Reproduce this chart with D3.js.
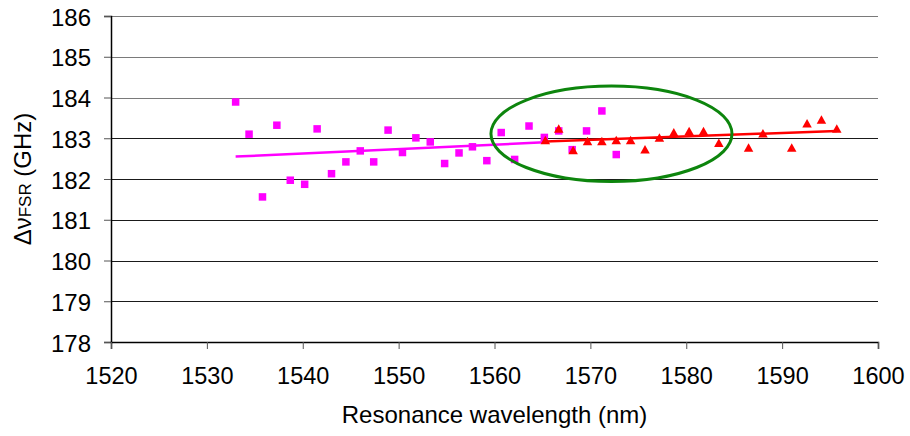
<!DOCTYPE html>
<html>
<head>
<meta charset="utf-8">
<script src="https://cdn.jsdelivr.net/npm/d3@7"></script>
<style>
  html, body { margin: 0; padding: 0; background: #fff; }
  svg { display: block; font-family: "Liberation Sans", Arial, sans-serif; }
</style>
</head>
<body>
<svg id="chart" width="910" height="436"></svg>
<script>
// ---- data ----
const xTicks = [1520, 1530, 1540, 1550, 1560, 1570, 1580, 1590, 1600];
const yTicks = [178, 179, 180, 181, 182, 183, 184, 185, 186];

const pinkX = [1533.0, 1534.4, 1535.8, 1537.3, 1538.7, 1540.2, 1541.5, 1543.0, 1544.5, 1546.0,
               1547.4, 1548.9, 1550.4, 1551.8, 1553.3, 1554.8, 1556.3, 1557.7, 1559.2, 1560.7,
               1562.1, 1563.6, 1565.2, 1566.7, 1568.1, 1569.6, 1571.2, 1572.7];
const pinkY = [183.89, 183.10, 181.56, 183.32, 181.97, 181.87, 183.23, 182.13, 182.42, 182.69,
               182.42, 183.20, 182.65, 183.01, 182.91, 182.38, 182.64, 182.79, 182.45, 183.14,
               182.48, 183.30, 183.02, 183.18, 182.72, 183.18, 183.67, 182.60];

const redX = [1565.3, 1566.7, 1568.2, 1569.7, 1571.2, 1572.7, 1574.2, 1575.7, 1577.2, 1578.7,
              1580.3, 1581.8, 1583.4, 1586.5, 1588.0, 1591.0, 1592.6, 1594.1, 1595.7];
const redY = [182.96, 183.24, 182.71, 182.93, 182.93, 182.96, 182.96, 182.73, 183.02, 183.15,
              183.18, 183.18, 182.89, 182.77, 183.12, 182.77, 183.37, 183.46, 183.24];

// linear trendlines (endpoints)
const pinkTrendX = [1533.0, 1565.2];
const pinkTrendY = [182.55, 182.90];
const redTrendX = [1565.3, 1595.7];
const redTrendY = [182.92, 183.18];

// highlight ellipse (data units): center x, center y, half-width (nm), half-height (GHz)
const ellipseCenter = [1572.2, 183.11];
const ellipseRadii = [12.57, 1.17];

// ---- layout ----
const svg = d3.select("#chart");
const W = 910, H = 436;
const margin = { left: 111, right: 32, top: 16, bottom: 94 };
const x = d3.scaleLinear().domain([1520, 1600]).range([margin.left, W - margin.right]);
const y = d3.scaleLinear().domain([178, 186]).range([H - margin.bottom, margin.top]);

svg.append("rect").attr("width", W).attr("height", H).attr("fill", "#fff");

// gridlines
svg.append("g").selectAll("line").data(yTicks.filter(d => d !== 178)).join("line")
  .attr("x1", x(1520)).attr("x2", x(1600))
  .attr("y1", d => Math.round(y(d)) + 0.5).attr("y2", d => Math.round(y(d)) + 0.5)
  .attr("stroke", d => d >= 184 ? "#7a7a7a" : "#1a1a1a").attr("stroke-width", 1);

// y axis
const yAxis = d3.axisLeft(y).tickValues(yTicks).tickSize(7).tickPadding(13).tickFormat(d3.format("d"));
const gy = svg.append("g").attr("transform", `translate(${x(1520)},0)`).call(yAxis);
gy.select(".domain").attr("stroke", "#000").attr("stroke-width", 1.5);
gy.selectAll(".tick line").attr("stroke", "#555");
gy.selectAll(".tick text").attr("font-size", 24).attr("fill", "#000")
  .attr("font-family", "Liberation Sans, Arial, sans-serif").attr("dy", "0.38em");

// x axis
const xAxis = d3.axisBottom(x).tickValues(xTicks).tickSize(7).tickPadding(18).tickFormat(d3.format("d"));
const gx = svg.append("g").attr("transform", `translate(0,${y(178)})`).call(xAxis);
gx.select(".domain").attr("stroke", "#000").attr("stroke-width", 1.5);
gx.selectAll(".tick line").attr("stroke", "#555");
gx.selectAll(".tick text").attr("font-size", 23.5).attr("fill", "#000")
  .attr("font-family", "Liberation Sans, Arial, sans-serif").attr("dy", "0.71em");

// axis titles
svg.append("text")
  .attr("x", (x(1520) + x(1600)) / 2).attr("y", 423)
  .attr("text-anchor", "middle").attr("font-size", 24).attr("fill", "#000")
  .text("Resonance wavelength (nm)");

const yt = svg.append("text")
  .attr("transform", `translate(31,${(y(178) + y(186)) / 2}) rotate(-90)`)
  .attr("text-anchor", "middle").attr("font-size", 24).attr("fill", "#000");
yt.append("tspan").attr("font-weight", 300).text("Δν");
yt.append("tspan").attr("font-size", 17).text("FSR");
yt.append("tspan").text(" (GHz)");

// pink squares
const s = 7.5;
svg.append("g").selectAll("rect").data(pinkX.map((d, i) => [d, pinkY[i]])).join("rect")
  .attr("x", d => x(d[0]) - s / 2).attr("y", d => y(d[1]) - s / 2)
  .attr("width", s).attr("height", s).attr("fill", "#ff00ff");

// pink trendline
svg.append("line")
  .attr("x1", x(pinkTrendX[0])).attr("y1", y(pinkTrendY[0]))
  .attr("x2", x(pinkTrendX[1])).attr("y2", y(pinkTrendY[1]))
  .attr("stroke", "#ff00ff").attr("stroke-width", 2.5);

// red triangles
const tw = 9.5, th = 8.5;
svg.append("g").selectAll("path").data(redX.map((d, i) => [d, redY[i]])).join("path")
  .attr("d", d => {
    const cx = x(d[0]), cy = y(d[1]);
    return `M${cx - tw / 2},${cy + th / 2}L${cx + tw / 2},${cy + th / 2}L${cx},${cy - th / 2}Z`;
  })
  .attr("fill", "#ff0000");

// red trendline
svg.append("line")
  .attr("x1", x(redTrendX[0])).attr("y1", y(redTrendY[0]))
  .attr("x2", x(redTrendX[1])).attr("y2", y(redTrendY[1]))
  .attr("stroke", "#ff0000").attr("stroke-width", 2.5);

// highlight ellipse
svg.append("ellipse")
  .attr("cx", x(ellipseCenter[0])).attr("cy", y(ellipseCenter[1]))
  .attr("rx", x(ellipseCenter[0] + ellipseRadii[0]) - x(ellipseCenter[0]))
  .attr("ry", y(ellipseCenter[1] - ellipseRadii[1]) - y(ellipseCenter[1]))
  .attr("fill", "none").attr("stroke", "#0d850d").attr("stroke-width", 3);
</script>
</body>
</html>
